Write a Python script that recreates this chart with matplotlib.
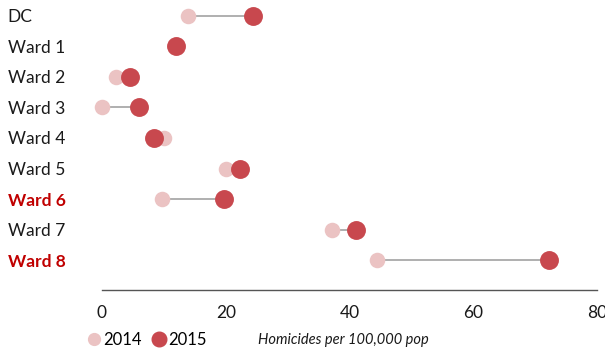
import matplotlib
matplotlib.use("Agg")
import matplotlib.pyplot as plt
from matplotlib.lines import Line2D

# Dados: homicídios por 100.000 habitantes
wards = ["DC", "Ward 1", "Ward 2", "Ward 3", "Ward 4", "Ward 5", "Ward 6", "Ward 7", "Ward 8"]
rate_2014 = [13.9, 12.0, 2.3, 0.0, 10.0, 20.0, 9.7, 37.2, 44.4]
rate_2015 = [24.4, 12.0, 4.5, 6.0, 8.4, 22.3, 19.7, 41.0, 72.2]
destaque = ["Ward 6", "Ward 8"]
xticks = [0, 20, 40, 60, 80]

cor_2014 = "#ebc3c3"
cor_2015 = "#c8484e"
cor_linha = "#a9a9a9"

plt.rcParams["font.family"] = ["Lato", "DejaVu Sans"]

fig = plt.figure(figsize=(6.05, 3.52), dpi=100)
ax = fig.add_axes([102 / 605, 62 / 352, 495 / 605, 290 / 352])

y = list(range(len(wards)))

# Linhas ligando 2014 e 2015
for i in y:
    ax.plot([rate_2014[i], rate_2015[i]], [i, i], color=cor_linha, lw=1.3, zorder=1, clip_on=False)

ax.scatter(rate_2014, y, s=125, color=cor_2014, zorder=2, clip_on=False, linewidths=0)
ax.scatter(rate_2015, y, s=185, color=cor_2015, zorder=3, clip_on=False, linewidths=0)

ax.set_xlim(0, 80)
ax.set_ylim(8.98, -0.52)

# Rótulos dos wards
ax.set_yticks(y)
ax.set_yticklabels(wards, fontsize=12.5, color="#1a1a1a")
for lbl in ax.get_yticklabels():
    lbl.set_horizontalalignment("left")
    if lbl.get_text() in destaque:
        lbl.set_color("#c00000")
        lbl.set_fontweight("bold")
ax.tick_params(axis="y", length=0, pad=68)

ax.set_xticks(xticks)
ax.set_xticklabels([str(t) for t in xticks], fontsize=12.5, color="#1a1a1a")
ax.tick_params(axis="x", length=0, pad=11)

for lado in ["top", "right", "left"]:
    ax.spines[lado].set_visible(False)
ax.spines["bottom"].set_color("#555555")
ax.spines["bottom"].set_linewidth(1.0)

# Legenda
handles = [
    Line2D([], [], marker="o", ls="", color=cor_2014, markersize=8.5),
    Line2D([], [], marker="o", ls="", color=cor_2015, markersize=10.5),
]
fig.legend(handles, ["2014", "2015"], loc="center left", bbox_to_anchor=(86 / 605, 1 - 340 / 352),
           ncol=2, frameon=False, fontsize=12, handletextpad=0.05, columnspacing=0.5,
           handlelength=1.0, borderpad=0, borderaxespad=0)

fig.text(258 / 605, 1 - 340 / 352, "Homicides per 100,000 pop", fontsize=10.5, style="italic",
         color="#1a1a1a", va="center")

plt.savefig("out.png", dpi=100)
